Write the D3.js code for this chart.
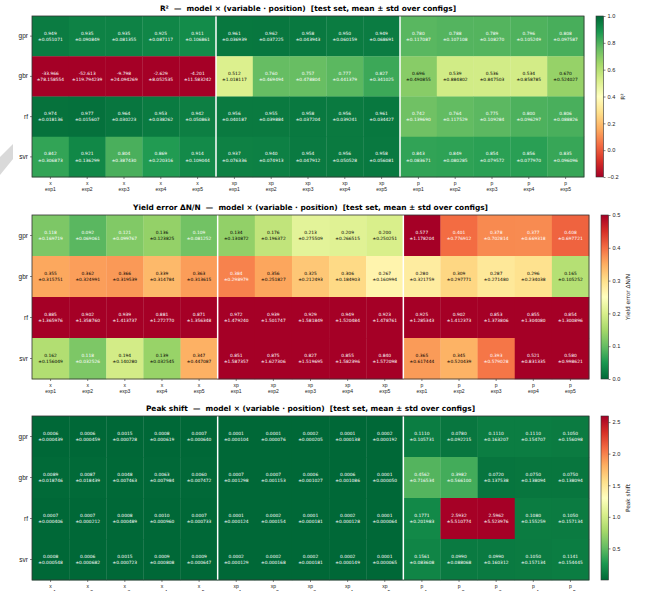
<!DOCTYPE html>
<html>
<head>
<meta charset="utf-8">
<script src="https://cdn.jsdelivr.net/npm/d3@7"></script>
<style>
  body { margin: 0; background: white; }
  svg { display: block; font-family: "DejaVu Sans", sans-serif; }
</style>
</head>
<body>
<div id="chart"></div>
<script>
// categories
const models = ["gpr", "gbr", "rf", "svr"];
const variables = ["x", "xp", "p"];
const exps = ["exp1", "exp2", "exp3", "exp4", "exp5"];

// R² (rows = models, cols = x exp1..5, xp exp1..5, p exp1..5)
const r2Mean = [
  [0.949, 0.935, 0.935, 0.925, 0.911, 0.961, 0.962, 0.958, 0.950, 0.949, 0.780, 0.788, 0.789, 0.796, 0.808],
  [-33.966, -52.613, -9.798, -2.629, -4.201, 0.512, 0.760, 0.757, 0.777, 0.827, 0.696, 0.539, 0.536, 0.534, 0.670],
  [0.974, 0.977, 0.964, 0.953, 0.942, 0.956, 0.955, 0.958, 0.956, 0.961, 0.742, 0.764, 0.775, 0.800, 0.806],
  [0.842, 0.921, 0.804, 0.869, 0.914, 0.937, 0.940, 0.954, 0.956, 0.958, 0.843, 0.849, 0.854, 0.856, 0.835]
];
const r2Std = [
  [0.051071, 0.090849, 0.081355, 0.087117, 0.106861, 0.036939, 0.037225, 0.043943, 0.060159, 0.068691, 0.117087, 0.107108, 0.108270, 0.105249, 0.097587],
  [78.158554, 119.794239, 24.094269, 8.052535, 11.583242, 1.018117, 0.469494, 0.478804, 0.441379, 0.341025, 0.490855, 0.884802, 0.847503, 0.858785, 0.524027],
  [0.018136, 0.015607, 0.030223, 0.038262, 0.050863, 0.040187, 0.039884, 0.037204, 0.039241, 0.034427, 0.139690, 0.117529, 0.109284, 0.096297, 0.088826],
  [0.306873, 0.136299, 0.387430, 0.220316, 0.109044, 0.076336, 0.074913, 0.047912, 0.050528, 0.056081, 0.083671, 0.080285, 0.079572, 0.077970, 0.096096]
];

// Yield error ΔN/N
const yieldMean = [
  [0.118, 0.092, 0.121, 0.136, 0.109, 0.134, 0.176, 0.213, 0.209, 0.200, 0.577, 0.401, 0.378, 0.377, 0.408],
  [0.355, 0.362, 0.366, 0.339, 0.363, 0.384, 0.356, 0.325, 0.306, 0.267, 0.280, 0.309, 0.287, 0.296, 0.165],
  [0.885, 0.902, 0.939, 0.881, 0.871, 0.972, 0.939, 0.929, 0.949, 0.923, 0.925, 0.902, 0.853, 0.855, 0.854],
  [0.162, 0.118, 0.194, 0.139, 0.347, 0.851, 0.875, 0.827, 0.855, 0.840, 0.365, 0.345, 0.393, 0.521, 0.580]
];
const yieldStd = [
  [0.169719, 0.069061, 0.099767, 0.123825, 0.081252, 0.130872, 0.196372, 0.275509, 0.266515, 0.250251, 1.178204, 0.776912, 0.702814, 0.669318, 0.697721],
  [0.315751, 0.324991, 0.319539, 0.314784, 0.313615, 0.298979, 0.251827, 0.212493, 0.184903, 0.160994, 0.321759, 0.297771, 0.271480, 0.234038, 0.105252],
  [1.365976, 1.358760, 1.413737, 1.272770, 1.356348, 1.479240, 1.501747, 1.581849, 1.520484, 1.478761, 1.285343, 1.412373, 1.373806, 1.304080, 1.300896],
  [0.156049, 0.032526, 0.140280, 0.032545, 0.447087, 1.587357, 1.627306, 1.519695, 1.582396, 1.572098, 0.617444, 0.520439, 0.579028, 0.831335, 0.998621]
];

// Peak shift
const peakMean = [
  [0.0006, 0.0006, 0.0015, 0.0008, 0.0007, 0.0001, 0.0001, 0.0002, 0.0001, 0.0002, 0.1110, 0.0780, 0.1110, 0.1110, 0.1050],
  [0.0089, 0.0087, 0.0048, 0.0063, 0.0060, 0.0007, 0.0007, 0.0006, 0.0006, 0.0001, 0.4562, 0.3982, 0.0720, 0.0750, 0.0750],
  [0.0007, 0.0007, 0.0008, 0.0010, 0.0007, 0.0001, 0.0002, 0.0001, 0.0002, 0.0001, 0.1771, 2.5932, 2.5962, 0.1080, 0.1050],
  [0.0008, 0.0006, 0.0015, 0.0009, 0.0009, 0.0002, 0.0002, 0.0002, 0.0002, 0.0001, 0.1561, 0.0990, 0.0990, 0.1050, 0.1141]
];
const peakStd = [
  [0.000439, 0.000459, 0.000728, 0.000619, 0.000640, 0.000104, 0.000076, 0.000205, 0.000138, 0.000192, 0.105731, 0.092215, 0.163207, 0.154707, 0.156098],
  [0.018746, 0.018439, 0.007463, 0.007984, 0.007472, 0.001298, 0.001153, 0.001027, 0.001086, 0.000050, 0.716534, 0.566100, 0.137538, 0.138094, 0.138094],
  [0.000406, 0.000212, 0.000489, 0.000960, 0.000733, 0.000124, 0.000154, 0.000181, 0.000128, 0.000064, 0.201983, 5.510774, 5.523976, 0.155259, 0.157134],
  [0.000548, 0.000682, 0.000723, 0.000808, 0.000647, 0.000129, 0.000168, 0.000181, 0.000149, 0.000065, 0.083608, 0.088068, 0.160312, 0.157134, 0.154445]
];

const r2Ticks = [-0.2, 0.0, 0.2, 0.4, 0.6, 0.8, 1.0];
const yieldTicks = [0.0, 0.1, 0.2, 0.3, 0.4, 0.5];
const peakTicks = [0.5, 1.0, 1.5, 2.0, 2.5];

// matplotlib RdYlGn anchors
const rdylgn = ["#a50026", "#d73027", "#f46d43", "#fdae61", "#fee08b", "#ffffbf",
                "#d9ef8b", "#a6d96a", "#66bd63", "#1a9850", "#006837"];
const cmap = d3.scaleLinear()
  .domain(d3.range(11).map(i => i / 10))
  .range(rdylgn)
  .interpolate(d3.interpolateRgb)
  .clamp(true);

const columns = variables.flatMap(v => exps.map(e => v + "|" + e));
const subtitle = "  —  model × (variable · position)  [test set, mean ± std over configs]";

const W = 649, H = 591;
const svg = d3.select("#chart").append("svg")
  .attr("width", W).attr("height", H);

// the light grey shape at the left edge
svg.append("path")
  .attr("d", "M0,157 L13,144 L13,159 L0,175 Z")
  .attr("fill", "#d9d9d9");

const panels = [
  { id: "r2", title: "R²" + subtitle, label: "R²", mean: r2Mean, std: r2Std,
    domain: [-0.2, 1.0], reverse: false, digits: 3, ticks: r2Ticks,
    left: 32, right: 584, top: 16, bottom: 177, cbX: 596 },
  { id: "yield", title: "Yield error ΔN/N" + subtitle, label: "Yield error ΔN/N", mean: yieldMean, std: yieldStd,
    domain: [0, 0.5], reverse: true, digits: 3, ticks: yieldTicks,
    left: 32, right: 589, top: 215, bottom: 379, cbX: 601 },
  { id: "peak", title: "Peak shift" + subtitle, label: "Peak shift", mean: peakMean, std: peakStd,
    domain: [d3.min(peakMean.flat()), d3.max(peakMean.flat())], reverse: true, digits: 4, ticks: peakTicks,
    left: 32, right: 589, top: 416, bottom: 580, cbX: 601 }
];

panels.forEach(drawPanel);

function drawPanel(p) {
  const x = d3.scaleBand().domain(columns).range([p.left, p.right]);
  const y = d3.scaleBand().domain(models).range([p.top, p.bottom]);
  const norm = d3.scaleLinear().domain(p.domain).clamp(true);
  const pos = v => p.reverse ? 1 - norm(v) : norm(v);

  const cells = [];
  models.forEach((m, i) => {
    columns.forEach((c, j) => {
      cells.push({ model: m, col: c, mean: p.mean[i][j], std: p.std[i][j] });
    });
  });

  const g = svg.append("g");

  g.selectAll("rect.cell")
    .data(cells)
    .join("rect")
    .attr("class", "cell")
    .attr("x", d => x(d.col))
    .attr("y", d => y(d.model))
    .attr("width", x.bandwidth() + 0.3)
    .attr("height", y.bandwidth() + 0.3)
    .attr("fill", d => cmap(pos(d.mean)));

  const txt = g.selectAll("g.lab")
    .data(cells)
    .join("g")
    .attr("class", "lab")
    .attr("transform", d => `translate(${x(d.col) + x.bandwidth() / 2},${y(d.model) + y.bandwidth() / 2})`)
    .style("font-size", "4.4px")
    .attr("text-anchor", "middle")
    .attr("fill", d => {
      const t = pos(d.mean);
      return (t < 0.25 || t > 0.75) ? "white" : "black";
    });
  txt.append("text").attr("y", -3).attr("dy", "0.35em").text(d => d.mean.toFixed(p.digits));
  txt.append("text").attr("y", 3.2).attr("dy", "0.35em").text(d => "±" + d.std.toFixed(6));

  // white separators between variable groups
  [5, 10].forEach(k => {
    g.append("line")
      .attr("x1", x(columns[k])).attr("x2", x(columns[k]))
      .attr("y1", p.top).attr("y2", p.bottom)
      .attr("stroke", "white").attr("stroke-width", 1.5);
  });

  // frame
  g.append("rect")
    .attr("x", p.left).attr("y", p.top)
    .attr("width", p.right - p.left).attr("height", p.bottom - p.top)
    .attr("fill", "none").attr("stroke", "#333").attr("stroke-width", 0.8);

  // y axis
  const yAxis = g.append("g")
    .attr("transform", `translate(${p.left},0)`)
    .call(d3.axisLeft(y).tickSize(2).tickPadding(2));
  yAxis.select(".domain").remove();
  yAxis.selectAll("text").style("font-size", "6.5px").attr("fill", "#222");
  yAxis.selectAll("line").attr("stroke", "#333").attr("stroke-width", 0.6);

  // x axis, two-line labels
  const xAxis = g.append("g")
    .attr("transform", `translate(0,${p.bottom})`)
    .call(d3.axisBottom(x).tickSize(2).tickFormat(""));
  xAxis.select(".domain").remove();
  xAxis.selectAll("line").attr("stroke", "#333").attr("stroke-width", 0.6);
  xAxis.selectAll(".tick").each(function (d) {
    const parts = d.split("|");
    const t = d3.select(this).append("text")
      .attr("fill", "#222").style("font-size", "5px").attr("text-anchor", "middle");
    t.append("tspan").attr("x", 0).attr("y", 5.8).attr("dy", "0.35em").text(parts[0]);
    t.append("tspan").attr("x", 0).attr("y", 12).attr("dy", "0.35em").text(parts[1]);
  });

  // title
  svg.append("text")
    .attr("x", (p.left + p.right) / 2)
    .attr("y", p.top - 8)
    .attr("dy", "0.35em")
    .attr("text-anchor", "middle")
    .style("font-size", "7.4px")
    .style("font-weight", "bold")
    .style("white-space", "pre")
    .text(p.title);

  // colorbar
  const cbW = 7.5;
  const grad = svg.append("defs").append("linearGradient")
    .attr("id", "grad-" + p.id)
    .attr("x1", 0).attr("x2", 0).attr("y1", 1).attr("y2", 0);
  d3.range(0, 1.0001, 0.05).forEach(s => {
    grad.append("stop")
      .attr("offset", s)
      .attr("stop-color", cmap(p.reverse ? 1 - s : s));
  });
  svg.append("rect")
    .attr("x", p.cbX).attr("y", p.top)
    .attr("width", cbW).attr("height", p.bottom - p.top)
    .attr("fill", `url(#grad-${p.id})`)
    .attr("stroke", "#333").attr("stroke-width", 0.6);

  const cbScale = d3.scaleLinear().domain(p.domain).range([p.bottom, p.top]);
  const cbAxis = svg.append("g")
    .attr("transform", `translate(${p.cbX + cbW},0)`)
    .call(d3.axisRight(cbScale).tickValues(p.ticks).tickSize(2).tickPadding(2).tickFormat(d3.format(".1f")));
  cbAxis.select(".domain").remove();
  cbAxis.selectAll("text").style("font-size", "5.6px").attr("fill", "#222");
  cbAxis.selectAll("line").attr("stroke", "#333").attr("stroke-width", 0.6);

  svg.append("text")
    .attr("transform", `translate(${p.cbX + 29},${(p.top + p.bottom) / 2}) rotate(-90)`)
    .attr("text-anchor", "middle")
    .style("font-size", "5.8px")
    .attr("fill", "#222")
    .text(p.label);
}
</script>
</body>
</html>
